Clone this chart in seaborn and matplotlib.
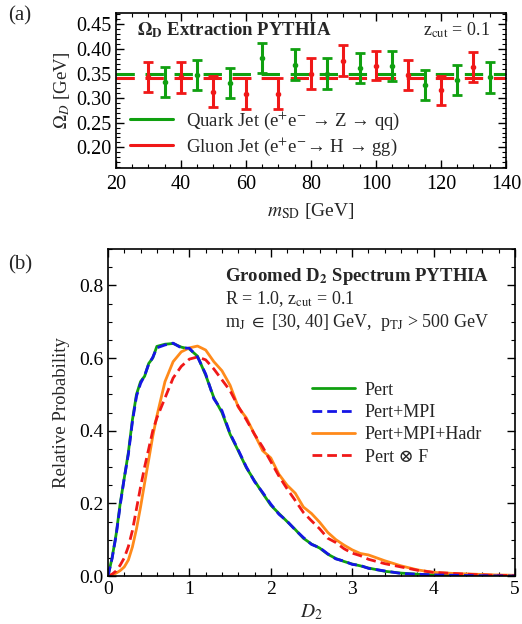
import numpy as np
import pandas as pd
import matplotlib
matplotlib.use("Agg")
import matplotlib.pyplot as plt
from matplotlib.ticker import MultipleLocator
from matplotlib.lines import Line2D
import seaborn as sns

# ---------------- data: panel (a) ----------------
quark_m = [35, 45, 55, 65, 75, 85, 95, 105, 115, 125, 135]
quark_omega = [0.333, 0.347, 0.331, 0.382, 0.368, 0.350, 0.361, 0.365, 0.327, 0.337, 0.342]
quark_err = [0.031, 0.031, 0.031, 0.031, 0.031, 0.031, 0.031, 0.031, 0.031, 0.031, 0.031]
gluon_m = [30, 40, 50, 60, 70, 80, 90, 100, 110, 120, 130]
gluon_omega = [0.343, 0.342, 0.313, 0.309, 0.309, 0.350, 0.376, 0.366, 0.347, 0.316, 0.363]
gluon_err = [0.031, 0.031, 0.031, 0.032, 0.032, 0.031, 0.031, 0.030, 0.031, 0.029, 0.031]
quark_fit = 0.349
gluon_fit = 0.340

# ---------------- data: panel (b) ----------------
d2 = [0, 0.05, 0.1, 0.15, 0.2, 0.25, 0.3, 0.35, 0.4, 0.45, 0.5, 0.55, 0.6, 0.7, 0.8, 0.9,
      1.0, 1.1, 1.2, 1.3, 1.4, 1.5, 1.6, 1.7, 1.8, 1.9, 2.0, 2.1, 2.2, 2.3, 2.4, 2.5,
      2.6, 2.7, 2.8, 2.9, 3.0, 3.1, 3.2, 3.4, 3.6, 3.8, 4.0, 4.25, 4.5, 4.75, 5.0]
pert = [0, 0.05, 0.115, 0.20, 0.27, 0.34, 0.43, 0.50, 0.535, 0.55, 0.585, 0.60, 0.632,
        0.638, 0.640, 0.630, 0.625, 0.605, 0.553, 0.491, 0.450, 0.390, 0.345, 0.298,
        0.262, 0.228, 0.195, 0.172, 0.150, 0.128, 0.104, 0.088, 0.077, 0.060, 0.048,
        0.040, 0.033, 0.028, 0.022, 0.013, 0.008, 0.005, 0.003, 0.002, 0.001, 0.0005, 0.0]
pert_mpi = [0, 0.048, 0.112, 0.195, 0.27, 0.335, 0.425, 0.495, 0.53, 0.552, 0.583, 0.602,
            0.628, 0.636, 0.641, 0.628, 0.627, 0.603, 0.556, 0.488, 0.455, 0.392, 0.347,
            0.300, 0.260, 0.230, 0.198, 0.170, 0.151, 0.127, 0.106, 0.087, 0.078, 0.061,
            0.047, 0.041, 0.032, 0.029, 0.021, 0.014, 0.007, 0.005, 0.003, 0.002, 0.001,
            0.0005, 0.0]
pert_mpi_hadr = [0, 0.002, 0.008, 0.015, 0.025, 0.044, 0.08, 0.13, 0.19, 0.256, 0.32, 0.385,
                 0.44, 0.535, 0.59, 0.617, 0.628, 0.633, 0.622, 0.590, 0.565, 0.525, 0.465,
                 0.435, 0.390, 0.345, 0.325, 0.280, 0.250, 0.228, 0.190, 0.172, 0.148, 0.120,
                 0.100, 0.085, 0.072, 0.062, 0.058, 0.042, 0.028, 0.017, 0.010, 0.007, 0.005,
                 0.003, 0.002]
pert_conv_f = [0, 0.005, 0.014, 0.030, 0.050, 0.081, 0.125, 0.185, 0.245, 0.30, 0.35, 0.40,
               0.435, 0.49, 0.545, 0.577, 0.597, 0.603, 0.595, 0.570, 0.540, 0.510, 0.467,
               0.430, 0.390, 0.355, 0.315, 0.275, 0.240, 0.208, 0.175, 0.152, 0.130, 0.104,
               0.092, 0.075, 0.063, 0.056, 0.046, 0.034, 0.025, 0.016, 0.010, 0.007, 0.004,
               0.002, 0.001]
series_names = ["Pert", "Pert+MPI", "Pert+MPI+Hadr", "Pert \u2297 F"]

GREEN = "#10a010"
RED = "#f01818"
BLUE = "#1515e6"
ORANGE = "#ff8a1a"
DASH = (3.5, 1.8)

sns.set_theme(style="ticks")
plt.rcParams["font.family"] = ["Liberation Serif", "DejaVu Serif"]
plt.rcParams["mathtext.fontset"] = "stix"
plt.rcParams["axes.linewidth"] = 1.2

fig = plt.figure(figsize=(5.22, 6.24), dpi=100)
ax1 = fig.add_axes([0.2222, 0.7308, 0.7471, 0.2484])
ax2 = fig.add_axes([0.2069, 0.0769, 0.7797, 0.5240])

def style_ticks(ax, fs):
    ax.tick_params(which="both", direction="in", top=True, right=True, colors="black",
                   labelsize=fs)
    ax.tick_params(which="major", length=6, width=1.0)
    ax.tick_params(which="minor", length=3, width=0.8)
    for s in ax.spines.values():
        s.set_color("black")
        s.set_linewidth(1.2)

# ---------------- panel (a) ----------------
ax1.axhline(quark_fit, color=GREEN, lw=2.2, dashes=(6, 3.5), zorder=1)
ax1.axhline(gluon_fit, color=RED, lw=2.2, dashes=(6, 3.5), zorder=1)
ax1.errorbar(quark_m, quark_omega, yerr=quark_err, fmt="o", color=GREEN, ms=3,
             elinewidth=2.2, capsize=3.5, capthick=2.0, zorder=3)
ax1.errorbar(gluon_m, gluon_omega, yerr=gluon_err, fmt="o", color=RED, ms=3,
             elinewidth=2.2, capsize=3.5, capthick=2.0, zorder=3)
ax1.set_xlim(20, 140)
ax1.set_ylim(0.158, 0.473)
ax1.xaxis.set_major_locator(MultipleLocator(20))
ax1.xaxis.set_minor_locator(MultipleLocator(5))
ax1.yaxis.set_major_locator(MultipleLocator(0.05))
ax1.yaxis.set_minor_locator(MultipleLocator(0.01))
ax1.yaxis.set_major_formatter(matplotlib.ticker.FormatStrFormatter("%.2f"))
style_ticks(ax1, 14.5)
ax1.tick_params(axis="x", pad=5)
ax1.set_xlabel(r"$m_{\mathrm{SD}}$ [GeV]", fontsize=14, labelpad=5)
ax1.set_ylabel(r"$\Omega_D$ [GeV]", fontsize=13.5, labelpad=3)
ax1.text(0.054, 0.89, r"$\mathbf{\Omega_D}$ Extraction PYTHIA", transform=ax1.transAxes,
         fontsize=13.5, fontweight="bold", ha="left", va="center")
ax1.text(0.96, 0.89, r"z$_{\mathrm{cut}}$ = 0.1", transform=ax1.transAxes,
         fontsize=13, ha="right", va="center")
h1 = [Line2D([], [], color=GREEN, lw=2.2), Line2D([], [], color=RED, lw=2.2)]
ax1.legend(h1, ["Quark Jet (e$^{+}$e$^{-}$ \u2192 Z \u2192 qq)",
                "Gluon Jet (e$^{+}$e$^{-}$\u2192 H \u2192 gg)"],
           loc="lower left", bbox_to_anchor=(0.035, 0.065), frameon=False, fontsize=13.5,
           handlelength=2.3, handletextpad=0.7, labelspacing=0.18, borderaxespad=0.0,
           borderpad=0.0)

# ---------------- panel (b) ----------------
df = pd.DataFrame({
    "D2": d2 * 4,
    "prob": pert + pert_mpi + pert_mpi_hadr + pert_conv_f,
    "series": sum([[n] * len(d2) for n in series_names], []),
})
palette = {series_names[0]: GREEN, series_names[1]: BLUE,
           series_names[2]: ORANGE, series_names[3]: RED}
dashed = {series_names[0]: False, series_names[1]: True,
          series_names[2]: False, series_names[3]: True}
order = [series_names[0], series_names[2], series_names[3], series_names[1]]
for name in order:
    sub = df[df["series"] == name]
    sns.lineplot(data=sub, x="D2", y="prob", ax=ax2, color=palette[name], lw=2.0,
                 estimator=None, sort=False, legend=False)
    if dashed[name]:
        ax2.get_lines()[-1].set_dashes(DASH)
ax2.set_xlim(0, 5)
ax2.set_ylim(0, 0.9)
ax2.xaxis.set_major_locator(MultipleLocator(1))
ax2.xaxis.set_minor_locator(MultipleLocator(0.2))
ax2.yaxis.set_major_locator(MultipleLocator(0.2))
ax2.yaxis.set_minor_locator(MultipleLocator(0.05))
ax2.yaxis.set_major_formatter(matplotlib.ticker.FormatStrFormatter("%.1f"))
style_ticks(ax2, 14)
ax2.set_xlabel(r"$D_2$", fontsize=14, labelpad=3)
ax2.set_ylabel("Relative Probability", fontsize=13.5, labelpad=6)
ax2.text(0.287, 0.917, r"Groomed D$_{\mathbf{2}}$ Spectrum PYTHIA", transform=ax2.transAxes,
         fontsize=13.5, fontweight="bold", ha="left", va="center")
ax2.text(0.287, 0.846, r"R = 1.0, z$_{\mathrm{cut}}$ = 0.1", transform=ax2.transAxes,
         fontsize=13, ha="left", va="center")
ax2.text(0.287, 0.776, r"m$_{\mathrm{J}}$ $\in$ [30, 40] GeV,  p$_{\mathrm{TJ}}$ > 500 GeV",
         transform=ax2.transAxes, fontsize=13, ha="left", va="center")
h2 = [Line2D([], [], color=GREEN, lw=2.0),
      Line2D([], [], color=BLUE, lw=2.0, dashes=DASH),
      Line2D([], [], color=ORANGE, lw=2.0),
      Line2D([], [], color=RED, lw=2.0, dashes=DASH)]
ax2.legend(h2, series_names, loc="center left", bbox_to_anchor=(0.50, 0.466),
           frameon=False, fontsize=13, handlelength=2.4, handletextpad=0.55,
           labelspacing=0.3, borderaxespad=0.0, borderpad=0.0)

fig.text(0.015, 0.975, "(a)", fontsize=15, ha="left", va="center")
fig.text(0.015, 0.575, "(b)", fontsize=15, ha="left", va="center")

fig.savefig("out.png", dpi=100)
